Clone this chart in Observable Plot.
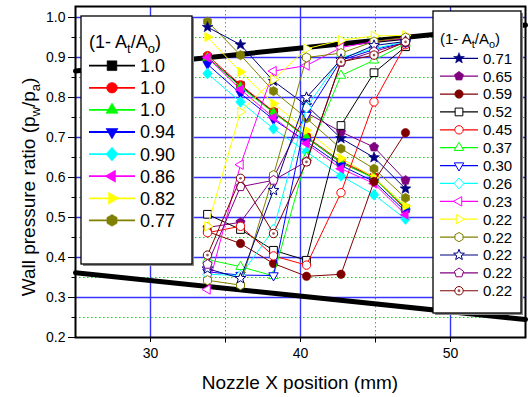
<!DOCTYPE html>
<html><head><meta charset="utf-8">
<script src="https://cdn.jsdelivr.net/npm/d3@7"></script>
<script src="https://cdn.jsdelivr.net/npm/@observablehq/plot@0.6"></script>
<style>
body{margin:0;background:#fff;}
#chart{width:528px;height:397px;}
svg{font-family:"Liberation Sans",Arial,sans-serif;}
</style></head><body><div id="chart"></div>
<script>
// ---------------- data ----------------
const xPos = [33.8, 36.0, 38.2, 40.4, 42.7, 44.9, 47.0];
const leftLabels = ["1.0","1.0","1.0","0.94","0.90","0.86","0.82","0.77"];
const leftValues = [
 [0.900,0.830,0.763,0.700,0.637,0.600,0.522],
 [0.905,0.832,0.765,0.702,0.640,0.602,0.520],
 [0.900,0.826,0.762,0.700,0.638,0.598,0.525],
 [0.883,0.810,0.745,0.690,0.630,0.590,0.515],
 [0.860,0.789,0.722,0.664,0.604,0.557,0.496],
 [0.900,0.820,0.750,0.685,0.622,0.585,0.507],
 [0.951,0.864,0.785,0.718,0.648,0.600,0.529],
 [0.990,0.906,0.816,0.748,0.672,0.622,0.549]
];
const rightLabels = ["0.71","0.65","0.59","0.52","0.45","0.37","0.30","0.26","0.23","0.22","0.22","0.22","0.22","0.22"];
const rightValues = [
 [0.976,0.932,0.841,0.780,0.698,0.650,0.572],
 [0.475,0.488,0.600,0.762,0.714,0.676,0.593],
 [0.465,0.435,0.385,0.353,0.358,0.590,0.712],
 [0.508,0.470,0.418,0.393,0.730,0.862,0.927],
 [0.462,0.478,0.404,0.381,0.562,0.789,0.932],
 [0.395,0.377,0.354,0.650,0.855,0.893,0.935],
 [0.364,0.356,0.355,0.756,0.893,0.920,0.937],
 [0.358,0.355,0.470,0.775,0.900,0.922,0.940],
 [0.320,0.632,0.866,0.880,0.925,0.940,0.948],
 [0.478,0.764,0.845,0.922,0.943,0.954,0.955],
 [0.343,0.331,0.606,0.900,0.911,0.940,0.950],
 [0.372,0.348,0.568,0.800,0.895,0.930,0.940],
 [0.383,0.577,0.593,0.640,0.888,0.915,0.937],
 [0.406,0.598,0.460,0.639,0.889,0.906,0.939]
];
const boundX = [25, 55];
const upperBound = [0.866, 0.981];
const lowerBound = [0.362, 0.245];
const majorXTicks = [30, 40, 50];
const minorXTicks = [35, 45];
const majorYTicks = [0.2, 0.3, 0.4, 0.5, 0.6, 0.7, 0.8, 0.9, 1.0];
const minorYTicks = [0.25, 0.35, 0.45, 0.55, 0.65, 0.75, 0.85, 0.95];

// ---------------- styles ----------------
const leftColors = ["#000000","#ff0000","#00ff00","#0000ff","#00ffff","#ff00ff","#ffff00","#808000"];
const leftSymbols = ["square","circle","triUp","triDown","diamond","triLeft","triRight","hexagon"];
const rightColors = ["#000080","#800080","#800000","#000000","#ff0000","#00ff00","#0000ff","#00ffff","#ff00ff","#ffff00","#808000","#000080","#800080","#800000"];
const rightSymbols = ["star","pentagon","circle","square","circle","triUp","triDown","diamond","triLeft","triRight","hexagon","star","pentagon","ring"];
const rightFilled = [true,true,true,false,false,false,false,false,false,false,false,false,false,false];

function polySym(pts){
  return {draw(ctx, size){
    const r = Math.sqrt(size/Math.PI);
    pts.forEach(([a,b],i)=> i ? ctx.lineTo(a*r,b*r) : ctx.moveTo(a*r,b*r));
    ctx.closePath();
  }};
}
const regular = (n, rot, k) => d3.range(n).map(i => {const a = rot + i*2*Math.PI/n; return [k*Math.cos(a), k*Math.sin(a)];});
const starPts = d3.range(10).map(i => {const a = -Math.PI/2 + i*Math.PI/5, k = i%2 ? 0.58 : 1.35; return [k*Math.cos(a), k*Math.sin(a)];});
const circleSym = {draw(ctx,size){const r=Math.sqrt(size/Math.PI); ctx.moveTo(r,0); ctx.arc(0,0,r,0,2*Math.PI);}};
const SYM = {
  square: polySym([[-0.92,-0.92],[0.92,-0.92],[0.92,0.92],[-0.92,0.92]]),
  circle: circleSym,
  ring: circleSym,
  triUp: polySym(regular(3, -Math.PI/2, 1.3)),
  triDown: polySym(regular(3, Math.PI/2, 1.3)),
  triLeft: polySym(regular(3, Math.PI, 1.3)),
  triRight: polySym(regular(3, 0, 1.3)),
  diamond: polySym([[0,-1.3],[1.15,0],[0,1.3],[-1.15,0]]),
  hexagon: polySym(regular(6, -Math.PI/2, 1.1)),
  pentagon: polySym(regular(5, -Math.PI/2, 1.15)),
  star: polySym(starPts)
};

const series = [
  ...leftLabels.map((lab,i)=>({vals:leftValues[i], color:leftColors[i], sym:leftSymbols[i], filled:true})),
  ...rightLabels.map((lab,i)=>({vals:rightValues[i], color:rightColors[i], sym:rightSymbols[i], filled:rightFilled[i]}))
];
const bounds = [
  ...boundX.map((x,i)=>({x, y:upperBound[i], k:"upper"})),
  ...boundX.map((x,i)=>({x, y:lowerBound[i], k:"lower"}))
];

const marks = [
  Plot.ruleY(minorYTicks, {stroke:"#00e000", strokeDasharray:"1.5,2.5", strokeWidth:1}),
  Plot.ruleX(minorXTicks, {stroke:"#00e000", strokeDasharray:"1.5,2.5", strokeWidth:1}),
  Plot.ruleY(majorYTicks.filter(v=>v>0.2), {stroke:"#3535ff", strokeWidth:1.4}),
  Plot.ruleX(majorXTicks, {stroke:"#3535ff", strokeWidth:1.4}),
  Plot.line(bounds, {x:"x", y:"y", z:"k", stroke:"black", strokeWidth:5})
];
series.forEach(s => {
  const pts = xPos.map((x,j)=>({x, y:s.vals[j]}));
  marks.push(Plot.line(pts, {x:"x", y:"y", stroke:s.color, strokeWidth:1}));
  marks.push(Plot.dot(pts, {x:"x", y:"y", symbol:SYM[s.sym], r:4.2,
    fill: s.filled ? s.color : "white", stroke:s.color, strokeWidth: s.filled ? 0.6 : 1}));
  if (s.sym === "ring") marks.push(Plot.dot(pts, {x:"x", y:"y", r:1.3, fill:"#a05050", stroke:"none"}));
});
marks.push(Plot.frame({stroke:"black", strokeWidth:2}));

const plot = Plot.plot({
  width:528, height:397, marginLeft:75, marginRight:3, marginTop:6, marginBottom:60,
  style:{background:"white", color:"black", fontSize:"14px", fontFamily:"Liberation Sans, Arial, sans-serif"},
  x:{domain:[25,55], ticks:majorXTicks, tickSize:5, tickPadding:6, tickFormat:d=>String(d), label:null},
  y:{domain:[0.2,1.0275], ticks:majorYTicks, tickSize:7, tickPadding:3, tickFormat:d3.format(".1f"), label:null},
  marks
});
document.getElementById("chart").appendChild(plot);
const svgNode = plot.tagName.toLowerCase() === "svg" ? plot : plot.querySelector("svg");
const svg = d3.select(svgNode);
const sx = v => plot.scale("x").apply(v), sy = v => plot.scale("y").apply(v);

// minor ticks
const y0 = sy(0.2), x0 = sx(25);
svg.append("g").attr("transform","translate(0.5,0.5)").selectAll("line").data(minorYTicks).join("line")
  .attr("x1", x0-4).attr("x2", x0).attr("y1", d=>sy(d)).attr("y2", d=>sy(d)).attr("stroke","black").attr("stroke-width",1);
svg.append("g").attr("transform","translate(0.5,0.5)").selectAll("line").data(minorXTicks).join("line")
  .attr("x1", d=>sx(d)).attr("x2", d=>sx(d)).attr("y1", y0).attr("y2", y0+5).attr("stroke","black").attr("stroke-width",1);

// axis labels
svg.append("text").attr("x", 300).attr("y", 389).attr("text-anchor","middle")
  .attr("font-size", 19).attr("fill","black").text("Nozzle X position (mm)");
const yl = svg.append("text").attr("transform","translate(35,187) rotate(-90)").attr("text-anchor","middle")
  .attr("font-size", 19).attr("fill","black");
yl.append("tspan").text("Wall pressure ratio (p");
yl.append("tspan").attr("font-size",13).attr("dy",5).text("w");
yl.append("tspan").attr("dy",-5).text("/p");
yl.append("tspan").attr("font-size",13).attr("dy",5).text("a");
yl.append("tspan").attr("dy",-5).text(")");

function title(g, x, y, fs, sfs, dy){
  const t = g.append("text").attr("x",x).attr("y",y).attr("font-size",fs).attr("fill","black").attr("text-anchor","start");
  t.append("tspan").text("(1- A");
  t.append("tspan").attr("font-size",sfs).attr("dy",dy).text("t");
  t.append("tspan").attr("dy",-dy).text("/A");
  t.append("tspan").attr("font-size",sfs).attr("dy",dy).text("o");
  t.append("tspan").attr("dy",-dy).text(")");
}
function legend(opt){
  const g = svg.append("g").attr("text-anchor","start");
  g.append("rect").attr("x",opt.bx+2).attr("y",opt.by+2).attr("width",opt.bw).attr("height",opt.bh).attr("fill","#8a8a8a");
  g.append("rect").attr("x",opt.bx).attr("y",opt.by).attr("width",opt.bw).attr("height",opt.bh).attr("fill","white").attr("stroke","black").attr("stroke-width",1.3);
  title(g, opt.tx, opt.ty, opt.tfs, opt.sfs, opt.sdy);
  opt.labels.forEach((lab,i)=>{
    const y = opt.row0 + i*opt.step;
    g.append("line").attr("x1",opt.lx1).attr("x2",opt.lx2).attr("y1",y).attr("y2",y).attr("stroke",opt.colors[i]).attr("stroke-width",opt.lw);
    const p = d3.path(); SYM[opt.symbols[i]].draw(p, Math.PI*opt.r*opt.r);
    g.append("path").attr("d",p.toString()).attr("transform",`translate(${(opt.lx1+opt.lx2)/2},${y})`)
      .attr("fill", opt.filled[i] ? opt.colors[i] : "white").attr("stroke",opt.colors[i]).attr("stroke-width", opt.filled[i]?0.6:1);
    if (opt.symbols[i]==="ring") g.append("circle").attr("cx",(opt.lx1+opt.lx2)/2).attr("cy",y).attr("r",1.4).attr("fill","#a05050");
    g.append("text").attr("x",opt.txt).attr("y",y+opt.fs*0.36).attr("font-size",opt.fs).attr("fill","black").attr("text-anchor","start").text(lab);
  });
}
legend({bx:81, by:16, bw:111, bh:248, tx:89, ty:48, tfs:18, sfs:13, sdy:5,
  labels:leftLabels, colors:leftColors, symbols:leftSymbols, filled:leftLabels.map(()=>true),
  row0:65.7, step:22.1, lx1:89, lx2:135, lw:1.8, r:5.3, txt:140, fs:18});
legend({bx:433, by:11, bw:88, bh:302, tx:440, ty:44, tfs:15, sfs:11, sdy:4,
  labels:rightLabels, colors:rightColors, symbols:rightSymbols, filled:rightFilled,
  row0:58.3, step:17.88, lx1:440, lx2:478, lw:1.2, r:4.2, txt:483, fs:15});
</script></body></html>
